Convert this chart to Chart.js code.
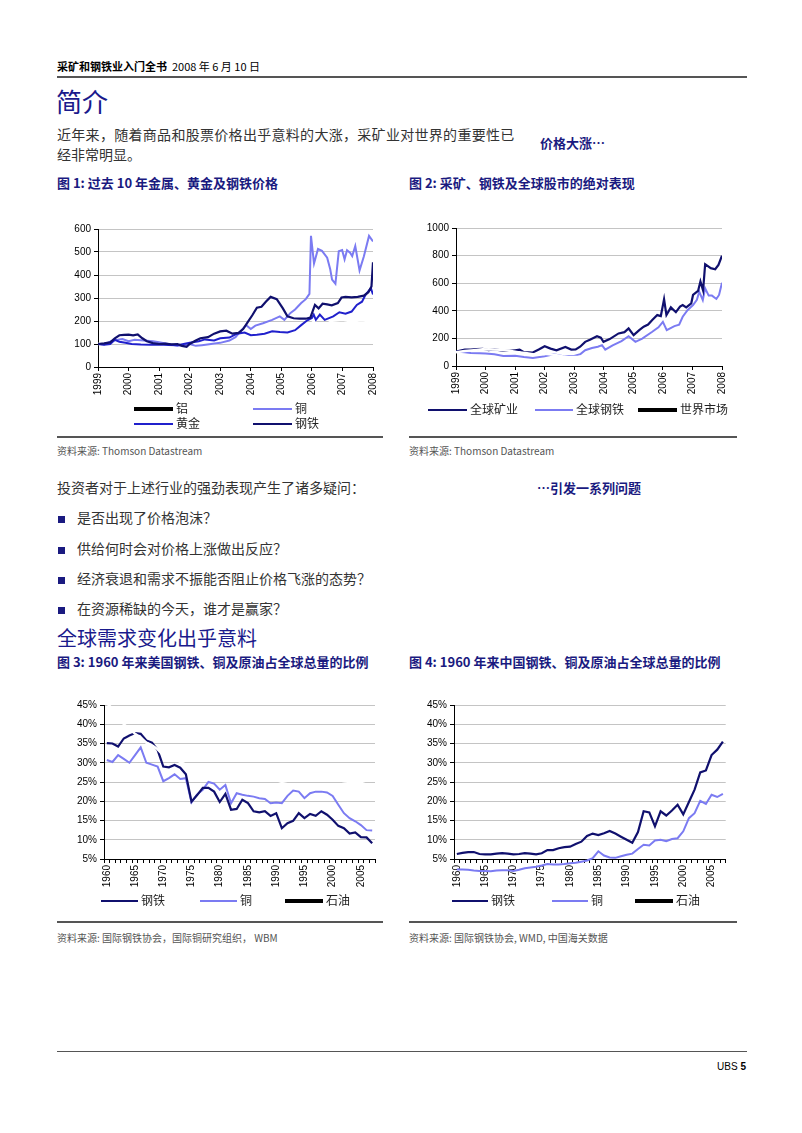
<!DOCTYPE html>
<html>
<head>
<meta charset="utf-8">
<script src="https://cdn.jsdelivr.net/npm/chart.js@4.4.0/dist/chart.umd.min.js"></script>
<style>
body { margin: 0; background: #fff; }
#page { position: relative; width: 802px; height: 1133px; font-family: "Noto Sans CJK SC", "Liberation Sans", sans-serif; color: #333; overflow: hidden; }
.t { position: absolute; white-space: nowrap; line-height: 1; }
.navy { color: #1a1a80; font-weight: bold; }
.rule { position: absolute; background: #555; height: 1.5px; }
.bul { position: absolute; width: 7px; height: 7px; background: #1a1a80; left: 58px; }
.src { font-size: 10px; color: #555; }
.lg { position: absolute; }
.lgt { position: absolute; font-size: 12px; line-height: 1; color: #222; white-space: nowrap; }
canvas { position: absolute; }
</style>
</head>
<body>
<div id="page">
  <div class="t" style="left:57px;top:61px;font-size:11px;color:#000"><b>采矿和钢铁业入门全书</b>&nbsp; 2008 年 6 月 10 日</div>
  <div class="rule" style="left:57px;top:76px;width:690px;height:2px"></div>

  <div class="t" style="left:56px;top:88px;font-size:26px;color:#1a1a8c">简介</div>
  <div class="t" style="left:57px;top:127px;font-size:14px;letter-spacing:0.3px">近年来，随着商品和股票价格出乎意料的大涨，采矿业对世界的重要性已</div>
  <div class="t" style="left:57px;top:147px;font-size:14px">经非常明显。</div>
  <div class="t navy" style="left:540px;top:136px;font-size:13px">价格大涨…</div>

  <div class="t navy" style="left:57px;top:176px;font-size:13px">图 1: 过去 10 年金属、黄金及钢铁价格</div>
  <div class="t navy" style="left:409px;top:176px;font-size:13px">图 2: 采矿、钢铁及全球股市的绝对表现</div>

  <canvas id="c1" width="330" height="180" style="left:57px;top:220px"></canvas>
  <canvas id="c2" width="330" height="182" style="left:409px;top:218px"></canvas>

  <div class="rule" style="left:57px;top:436px;width:326px"></div>
  <div class="rule" style="left:409px;top:436px;width:328px"></div>
  <div class="t src" style="left:57px;top:446px">资料来源: Thomson Datastream</div>
  <div class="t src" style="left:409px;top:446px">资料来源: Thomson Datastream</div>

  <div class="t" style="left:57px;top:480px;font-size:14px">投资者对于上述行业的强劲表现产生了诸多疑问：</div>
  <div class="t navy" style="left:537px;top:481px;font-size:13px">…引发一系列问题</div>

  <div class="bul" style="top:516px"></div>
  <div class="t" style="left:77px;top:510px;font-size:14px">是否出现了价格泡沫？</div>
  <div class="bul" style="top:547px"></div>
  <div class="t" style="left:77px;top:541px;font-size:14px">供给何时会对价格上涨做出反应？</div>
  <div class="bul" style="top:577px"></div>
  <div class="t" style="left:77px;top:571px;font-size:14px">经济衰退和需求不振能否阻止价格飞涨的态势？</div>
  <div class="bul" style="top:607px"></div>
  <div class="t" style="left:77px;top:601px;font-size:14px">在资源稀缺的今天，谁才是赢家？</div>

  <div class="t" style="left:57px;top:628px;font-size:20px;color:#1a1a8c">全球需求变化出乎意料</div>
  <div class="t navy" style="left:57px;top:655px;font-size:13px">图 3: 1960 年来美国钢铁、铜及原油占全球总量的比例</div>
  <div class="t navy" style="left:409px;top:655px;font-size:13px">图 4: 1960 年来中国钢铁、铜及原油占全球总量的比例</div>

  <canvas id="c3" width="330" height="198" style="left:57px;top:695px"></canvas>
  <canvas id="c4" width="330" height="198" style="left:407px;top:695px"></canvas>

  <div class="rule" style="left:57px;top:921px;width:326px"></div>
  <div class="rule" style="left:409px;top:921px;width:328px"></div>
  <div class="t src" style="left:57px;top:933px">资料来源: 国际钢铁协会，国际铜研究组织， WBM</div>
  <div class="t src" style="left:409px;top:933px">资料来源: 国际钢铁协会, WMD, 中国海关数据</div>

  <div class="rule" style="left:57px;top:1051px;width:690px;height:1px"></div>
  <div class="t" style="right:56px;top:1062px;font-size:10px;color:#000;font-family:'Liberation Sans',sans-serif">UBS <b>5</b></div>
</div>

<script>
// colours
var NAVY = '#10106e';
var LIGHT = '#7b7bf2';
var BLUE = '#2020cc';
var BLACK = '#000';
var HIDDEN = '#fff';   // black-legend series print white in the source

// ---- figure 1: index 1999 = 100 (year, value)
var steel1 = [[1999.0,100],[1999.2,103],[1999.4,107],[1999.55,125],[1999.7,138],[1999.85,140],[2000.0,141],[2000.15,138],[2000.3,142],[2000.45,125],[2000.6,112],[2000.8,104],[2001.0,100],[2001.2,102],[2001.4,98],[2001.6,100],[2001.75,92],[2001.9,88],[2002.0,100],[2002.2,115],[2002.35,125],[2002.6,130],[2002.8,145],[2003.0,155],[2003.2,158],[2003.4,145],[2003.6,148],[2003.75,165],[2003.9,195],[2004.05,225],[2004.2,258],[2004.35,262],[2004.5,285],[2004.65,305],[2004.85,295],[2005.05,255],[2005.2,220],[2005.4,212],[2005.6,210],[2005.8,210],[2005.95,215],[2006.1,270],[2006.22,255],[2006.35,275],[2006.5,272],[2006.65,268],[2006.85,278],[2006.97,302],[2007.1,305],[2007.3,303],[2007.5,305],[2007.7,310],[2007.85,325],[2007.95,350],[2008.0,455]];
var copper1 = [[1999.0,100],[1999.2,98],[1999.4,110],[1999.6,118],[1999.8,122],[2000.0,112],[2000.2,118],[2000.5,115],[2000.8,112],[2001.0,108],[2001.3,100],[2001.6,92],[2001.8,95],[2002.0,100],[2002.2,92],[2002.4,95],[2002.7,100],[2003.0,105],[2003.3,115],[2003.5,130],[2003.7,160],[2003.85,182],[2004.0,165],[2004.15,180],[2004.4,190],[2004.7,205],[2004.95,220],[2005.1,205],[2005.3,235],[2005.45,250],[2005.65,278],[2005.8,295],[2005.92,318],[2005.97,570],[2006.07,450],[2006.2,513],[2006.33,505],[2006.5,475],[2006.6,425],[2006.66,380],[2006.77,362],[2006.88,503],[2006.99,508],[2007.07,468],[2007.15,508],[2007.25,497],[2007.32,482],[2007.42,526],[2007.56,420],[2007.7,480],[2007.87,570],[2008.0,546]];
var gold1 = [[1999.0,100],[1999.2,97],[1999.4,100],[1999.55,118],[1999.7,110],[1999.9,105],[2000.1,100],[2000.4,98],[2000.7,97],[2001.0,98],[2001.3,96],[2001.6,95],[2001.8,100],[2002.0,105],[2002.3,112],[2002.5,120],[2002.8,115],[2003.0,125],[2003.3,128],[2003.55,145],[2003.8,150],[2004.0,138],[2004.2,140],[2004.45,145],[2004.7,155],[2004.95,152],[2005.2,150],[2005.45,160],[2005.65,182],[2005.85,203],[2006.0,213],[2006.06,228],[2006.13,205],[2006.26,228],[2006.42,205],[2006.7,220],[2006.9,238],[2007.1,232],[2007.3,241],[2007.47,270],[2007.64,284],[2007.75,313],[2007.93,343],[2008.0,315]];
var alum1 = [[1999.0,100],[1999.5,110],[2000.0,120],[2000.5,112],[2001.0,105],[2001.5,95],[2002.0,100],[2002.5,98],[2003.0,105],[2003.5,105],[2004.0,125],[2004.5,125],[2005.0,135],[2005.5,140],[2006.0,190],[2006.3,225],[2006.6,200],[2007.0,205],[2007.3,198],[2007.6,203],[2008.0,198]];

// ---- figure 2: absolute performance (year, value)
var mining2 = [[1999.0,104],[1999.15,112],[1999.3,119],[1999.5,118],[1999.7,122],[1999.9,125],[2000.1,115],[2000.3,120],[2000.6,112],[2000.8,109],[2001.0,114],[2001.15,118],[2001.3,100],[2001.6,98],[2001.8,119],[2002.0,143],[2002.2,126],[2002.4,114],[2002.7,138],[2002.9,119],[2003.05,120],[2003.2,140],[2003.37,175],[2003.55,192],[2003.77,216],[2003.9,205],[2003.99,175],[2004.2,195],[2004.5,236],[2004.7,245],[2004.84,272],[2005.01,224],[2005.2,260],[2005.35,285],[2005.5,300],[2005.64,333],[2005.81,369],[2005.93,362],[2006.04,483],[2006.12,369],[2006.27,425],[2006.44,390],[2006.58,430],[2006.67,442],[2006.79,425],[2006.96,454],[2007.02,515],[2007.19,544],[2007.27,613],[2007.36,547],[2007.43,738],[2007.62,709],[2007.77,701],[2007.88,733],[2008.0,799]];
var steel2 = [[1999.0,105],[1999.3,100],[1999.5,95],[1999.8,92],[2000.0,90],[2000.3,85],[2000.6,73],[2001.0,75],[2001.3,65],[2001.6,58],[2002.0,70],[2002.3,85],[2002.6,73],[2003.0,73],[2003.2,85],[2003.37,114],[2003.6,130],[2003.8,140],[2003.94,151],[2004.05,119],[2004.3,150],[2004.6,180],[2004.84,216],[2005.07,175],[2005.3,199],[2005.64,248],[2005.85,280],[2006.0,320],[2006.13,260],[2006.39,289],[2006.55,300],[2006.67,357],[2006.84,406],[2007.02,442],[2007.15,480],[2007.23,539],[2007.35,478],[2007.43,563],[2007.55,510],[2007.66,510],[2007.81,486],[2007.9,515],[2008.0,604]];
var world2 = [[1999.0,100],[1999.3,108],[1999.6,115],[1999.9,122],[2000.2,120],[2000.5,118],[2000.8,110],[2001.1,100],[2001.4,92],[2001.7,82],[2002.0,88],[2002.3,82],[2002.6,70],[2002.8,65],[2003.1,65],[2003.4,72],[2003.7,82],[2004.0,90],[2004.4,88],[2004.8,95],[2005.2,98],[2005.6,102],[2006.0,115],[2006.4,112],[2006.8,125],[2007.2,132],[2007.6,138],[2007.9,128],[2008.0,125]];

// ---- figures 3 and 4: share of world total, %, one value per year
var years34 = ['1960','1961','1962','1963','1964','1965','1966','1967','1968','1969','1970','1971','1972','1973','1974','1975','1976','1977','1978','1979','1980','1981','1982','1983','1984','1985','1986','1987','1988','1989','1990','1991','1992','1993','1994','1995','1996','1997','1998','1999','2000','2001','2002','2003','2004','2005','2006','2007'];

var usSteel = [35.1,35.0,34.2,36.3,37.1,37.7,37.5,35.8,35.2,33.3, 29.0,28.8,29.4,28.7,27.0,19.9,21.6,23.5,23.5,22.5, 19.8,21.9,17.8,18.0,20.4,19.5,17.4,17.1,17.4,16.2, 16.9,13.0,14.3,14.9,16.9,15.6,16.7,16.2,17.4,16.5, 15.2,13.6,13.0,11.6,11.9,10.7,10.6,9.1];
var usCopper = [30.7,30.2,32.0,31.0,30.0,32.0,34.0,30.0,29.5,29.0, 25.2,26.0,27.0,25.8,26.0,19.7,21.8,23.0,25.0,24.6, 23.0,24.2,19.5,22.1,21.7,21.4,21.2,20.8,20.6,19.5, 19.7,19.5,21.4,22.8,22.5,20.8,22.1,22.5,22.5,22.3, 21.4,19.1,16.9,15.6,14.8,13.8,12.5,12.4];
var usOil = [45.5,44.0,42.0,40.0,38.8,37.5,36.5,35.2,34.5,33.5, 32.0,31.5,31.0,30.2,29.5,29.0,29.2,29.5,29.3,28.5, 27.5,26.5,26.0,25.8,26.0,26.0,26.0,26.2,26.3,26.0, 25.5,25.0,25.3,25.3,25.5,25.3,25.5,25.5,25.6,25.8, 25.7,25.5,25.2,25.0,25.0,24.8,24.3,23.9];

var cnSteel = [6.3,6.6,6.8,6.8,6.3,6.2,6.2,6.4,6.5,6.4, 6.2,6.3,6.5,6.4,6.2,6.5,7.3,7.3,7.8,8.1, 8.2,8.9,9.5,11.0,11.6,11.2,11.7,12.3,11.6,10.8, 10.0,9.2,12.0,17.4,17.1,13.5,17.4,16.3,17.6,19.1, 16.6,19.8,23.0,27.5,28.0,32.0,33.4,35.5];
var cnCopper = [2.3,2.3,2.2,2.0,1.9,1.9,1.8,2.0,2.1,2.1, 1.9,2.2,2.6,2.8,3.0,3.3,3.7,3.6,3.6,3.7, 3.9,4.0,4.3,4.6,5.2,7.0,5.9,5.4,5.3,5.7, 6.1,6.4,7.6,8.7,8.5,9.8,10.0,9.6,10.2,10.4, 12.2,15.6,16.9,20.1,19.3,21.7,21.1,21.9];
var cnOil = [1.2,1.0,0.9,0.9,0.8,0.8,0.9,0.9,0.9,1.1, 1.3,1.5,1.7,1.8,2.0,2.4,2.5,2.7,2.9,2.9, 2.9,2.8,2.9,3.0,3.0,3.1,3.3,3.4,3.6,3.7, 3.5,3.7,4.0,4.4,4.5,4.8,5.1,5.6,5.7,5.9, 6.1,6.1,6.5,7.0,8.0,8.1,8.6,8.9];

var tickFont = { family: "'Liberation Sans', Arial, sans-serif", size: 10 };

function pairsToPoints(pairs) {
  return pairs.map(function (p) { return { x: p[0], y: p[1] }; });
}

function series(label, data, color, width, extra) {
  var ds = {
    label: label,
    data: data,
    borderColor: color,
    backgroundColor: color,
    borderWidth: width,
    pointRadius: 0,
    tension: 0,
    fill: false
  };
  return Object.assign(ds, extra || {});
}

function yAxis(min, max, step, width, fmt) {
  return {
    min: min,
    max: max,
    afterFit: function (s) { s.width = width; },
    ticks: { stepSize: step, font: tickFont, color: '#000', padding: 3, callback: fmt },
    grid: { color: '#c4c4c4', tickColor: '#000', tickLength: 4 },
    border: { color: '#000' }
  };
}

function yearAxis(height) {
  return {
    type: 'linear',
    min: 1999,
    max: 2008,
    afterFit: function (s) { s.height = height; },
    ticks: {
      stepSize: 1, autoSkip: false, minRotation: 90, maxRotation: 90,
      font: tickFont, color: '#000', padding: 2,
      callback: function (v) { return String(v); }
    },
    grid: { drawOnChartArea: false, tickColor: '#000', tickLength: 4 },
    border: { color: '#000' }
  };
}

function categoryYearAxis(height) {
  return {
    type: 'category',
    offset: true,
    afterFit: function (s) { s.height = height; },
    ticks: {
      autoSkip: false, minRotation: 90, maxRotation: 90,
      font: tickFont, color: '#000', padding: 2,
      callback: function (v, i) {
        var y = years34[i];
        return (Number(y) % 5 === 0) ? y : '';
      }
    },
    grid: { offset: true, drawOnChartArea: false, tickColor: '#000', tickLength: 4 },
    border: { color: '#000' }
  };
}

function options(x, y, pad) {
  return {
    responsive: false,
    animation: false,
    events: [],
    layout: { padding: pad },
    plugins: { legend: { display: false }, tooltip: { enabled: false } },
    scales: { x: x, y: y }
  };
}

// figure 1 (aluminium drawn first, under the others)
new Chart(document.getElementById('c1'), {
  type: 'line',
  data: {
    datasets: [
      series('钢铁', pairsToPoints(steel1), NAVY, 2.2),
      series('黄金', pairsToPoints(gold1), BLUE, 2),
      series('铜', pairsToPoints(copper1), LIGHT, 2),
      series('铝', pairsToPoints(alum1), HIDDEN, 2.5)
    ]
  },
  options: options(yearAxis(33), yAxis(0, 600, 100, 41), { top: 9, right: 14, left: 0, bottom: 0 })
});

// figure 2 (world market drawn on top)
new Chart(document.getElementById('c2'), {
  type: 'line',
  data: {
    datasets: [
      series('世界市场', pairsToPoints(world2), HIDDEN, 2.5),
      series('全球矿业', pairsToPoints(mining2), NAVY, 2.2),
      series('全球钢铁', pairsToPoints(steel2), LIGHT, 2)
    ]
  },
  options: options(yearAxis(34), yAxis(0, 1000, 200, 47), { top: 10, right: 17, left: 0, bottom: 0 })
});

function pct(v) { return v + '%'; }

// figure 3
new Chart(document.getElementById('c3'), {
  type: 'line',
  data: {
    labels: years34,
    datasets: [
      series('石油', usOil, HIDDEN, 2.5),
      series('钢铁', usSteel, NAVY, 2.2),
      series('铜', usCopper, LIGHT, 2)
    ]
  },
  options: options(categoryYearAxis(34), yAxis(5, 45, 5, 47, pct), { top: 10, right: 12, left: 0, bottom: 0 })
});

// figure 4 (copper under 5% runs past the axis, as in the print)
new Chart(document.getElementById('c4'), {
  type: 'line',
  data: {
    labels: years34,
    datasets: [
      series('石油', cnOil, HIDDEN, 2.5),
      series('钢铁', cnSteel, NAVY, 2.2),
      series('铜', cnCopper, LIGHT, 2, { clip: false })
    ]
  },
  options: options(categoryYearAxis(34), yAxis(5, 45, 5, 47, pct), { top: 10, right: 11, left: 0, bottom: 0 })
});

// html legends: [lineLeft, lineRight, centreY, colour, thickness, text]
var legendItems = [
  [134, 173, 408.5, BLACK, 4, '铝'], [253, 292, 408.5, LIGHT, 2, '铜'],
  [134, 173, 423.5, BLUE, 2, '黄金'], [253, 292, 423.5, NAVY, 2, '钢铁'],
  [428, 467, 409.5, NAVY, 2, '全球矿业'], [535, 573, 409.5, LIGHT, 2, '全球钢铁'], [638, 677, 409.5, BLACK, 4, '世界市场'],
  [101, 138, 900.5, NAVY, 2, '钢铁'], [200, 237, 900.5, LIGHT, 2, '铜'], [285, 323, 900.5, BLACK, 4, '石油'],
  [452, 488, 900.5, NAVY, 2, '钢铁'], [552, 588, 900.5, LIGHT, 2, '铜'], [635, 673, 900.5, BLACK, 4, '石油']
];
var page = document.getElementById('page');
legendItems.forEach(function (it) {
  var ln = document.createElement('div');
  ln.className = 'lg';
  ln.style.left = it[0] + 'px';
  ln.style.width = (it[1] - it[0]) + 'px';
  ln.style.top = (it[2] - it[4] / 2) + 'px';
  ln.style.height = it[4] + 'px';
  ln.style.background = it[3];
  page.appendChild(ln);
  var tx = document.createElement('div');
  tx.className = 'lgt';
  tx.style.left = (it[1] + 3) + 'px';
  tx.style.top = (it[2] - 6.7) + 'px';
  tx.textContent = it[5];
  page.appendChild(tx);
});
</script>
</body>
</html>
